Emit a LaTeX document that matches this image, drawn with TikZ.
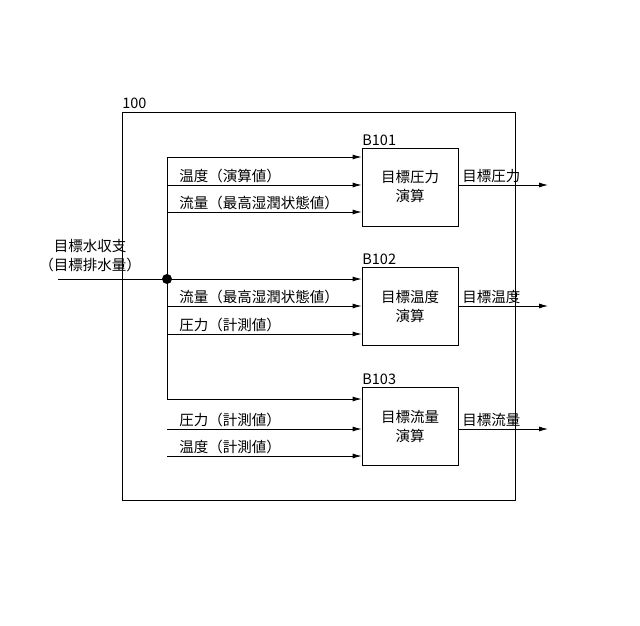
\documentclass[tikz,border=0pt]{standalone}
\usepackage{fontspec}
\setmainfont{Noto Sans CJK JP}
\usetikzlibrary{arrows.meta}
\begin{document}
\begin{tikzpicture}[x=1pt,y=-1pt,line width=0.8pt,
  blk/.style={draw,minimum width=96pt,minimum height=78pt,align=center,inner sep=0pt,font=\fontsize{14.5}{19}\selectfont},
  lbl/.style={font=\fontsize{14.5}{19}\selectfont,inner sep=1pt},
  arr/.style={-{Latex[length=9pt,width=5pt]}}]
\useasboundingbox (0,0) rectangle (640,625);
\draw (122,112) rectangle (515,500);
\node[lbl,anchor=south west] (l100) at (121,110) {100};
\node[blk] (b1) at (410,187) {目標圧力\\演算};
\node[blk] (b2) at (410,306.5) {目標温度\\演算};
\node[blk] (b3) at (410,426.5) {目標流量\\演算};
\node[lbl,anchor=south west] (t1) at (361,147) {B101};
\node[lbl,anchor=south west] (t2) at (361,266) {B102};
\node[lbl,anchor=south west] (t3) at (361,386) {B103};
\fill (167,279) circle (5pt);
\coordinate (d) at (167,279);
\coordinate (in) at (58,279);
\node[lbl,align=center] (inl) at (90,256) {目標水収支\\（目標排水量）};
\draw (in) -- (d);
\coordinate (vt) at (167,157);
\coordinate (vb) at (167,399);
\draw (vt) -- (vb);
\draw[arr] (vt) -- (vt -| b1.west);
\draw[arr] (d) -- (d -| b1.west);
\draw[arr] (vb) -- (vb -| b1.west);
\foreach \y/\t in {185/温度（演算値）,212/流量（最高湿潤状態値）,306/流量（最高湿潤状態値）,334/圧力（計測値）,429/圧力（計測値）,456/温度（計測値）}{
  \coordinate (s\y) at (167,\y);
  \draw[arr] (s\y) -- (s\y -| b1.west);
  \node[lbl,anchor=south west] at (178,\y-1) {\t};
}
\foreach \b/\y/\t in {b1/185/目標圧力,b2/306/目標温度,b3/429/目標流量}{
  \coordinate (o\b) at (548,\y);
  \draw[arr] (\b.east |- o\b) -- (o\b);
  \node[lbl,anchor=south west] at (461,\y-1) {\t};
}
\end{tikzpicture}
\end{document}
